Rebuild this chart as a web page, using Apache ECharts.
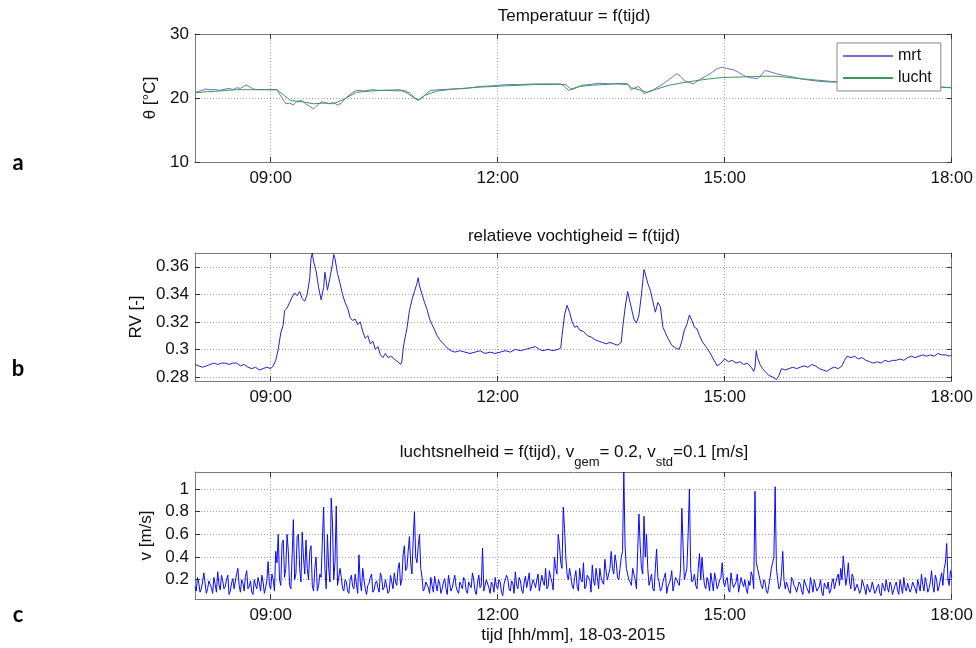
<!DOCTYPE html>
<html>
<head>
<meta charset="utf-8">
<title>Temperatuur, RV en luchtsnelheid</title>
<script src="https://cdn.jsdelivr.net/npm/echarts@6/dist/echarts.min.js"></script>
<style>
  html, body { margin: 0; padding: 0; background: #fff; }
  #chart { width: 976px; height: 648px; }
</style>
</head>
<body>
<div id="chart"></div>
<script>
// tijd in minuten na 08:00
const timeTicks = [60, 240, 420, 600];
const tempTicks = [10, 20, 30];
const rvTicks = [0.28, 0.3, 0.32, 0.34, 0.36];
const vTicks = [0.2, 0.4, 0.6, 0.8, 1];

const mrtTime = [
  0, 4, 8, 12, 16, 20, 24, 27, 30, 33, 36, 40, 43, 46, 50, 55, 59, 65, 68, 72,
  75, 78, 81, 85, 88, 91, 94, 97, 100, 103, 106, 110, 113, 116, 119, 123, 128, 134, 140, 146,
  153, 160, 166, 170, 174, 177, 180, 184, 187, 195, 204, 215, 226, 236, 247, 258, 269, 280, 290, 293,
  296, 300, 307, 313, 320, 330, 339, 343, 346, 349, 352, 356, 359, 363, 367, 371, 376, 382, 385, 388,
  392, 395, 398, 401, 405, 410, 414, 418, 422, 427, 431, 435, 440, 446, 449, 452, 456, 461, 467, 474,
  480, 487, 495, 504, 520, 540, 560, 580, 600
];
const mrtTemp = [
  20.9, 21.1, 21.4, 21.3, 21.3, 21.2, 21.4, 21.5, 21.3, 21.6, 21.5, 22.0, 21.8, 21.4, 21.3, 21.3, 21.3, 21.3, 20.3, 19.1,
  19.2, 18.9, 19.5, 19.6, 19.0, 18.7, 18.3, 18.9, 19.4, 19.3, 19.1, 19.3, 18.9, 19.2, 19.9, 20.6, 21.2, 21.1, 21.3, 21.2,
  21.2, 21.1, 21.2, 20.8, 20.1, 19.6, 20.0, 20.8, 21.2, 21.3, 21.4, 21.5, 21.8, 21.9, 22.1, 22.1, 22.2, 22.2, 22.2, 21.8,
  21.2, 21.4, 22.0, 22.1, 22.3, 22.2, 22.3, 22.2, 21.3, 21.6, 21.8, 20.7, 20.9, 21.2, 21.7, 22.2, 22.9, 23.8, 23.4, 22.7,
  22.4, 22.2, 22.6, 23.0, 23.4, 24.0, 24.6, 24.8, 24.6, 24.4, 24.0, 23.5, 23.2, 23.0, 23.6, 24.3, 24.1, 23.8, 23.5, 23.3,
  23.0, 22.8, 22.6, 22.5, 22.4, 22.2, 22.0, 21.8, 21.6
];

const luchtTime = [
  0, 10, 20, 33, 45, 55, 65, 70, 76, 85, 94, 102, 110, 118, 128, 140, 150, 162, 168, 173,
  177, 182, 192, 205, 226, 247, 269, 285, 294, 298, 305, 315, 333, 343, 346, 352, 358, 366, 376, 387,
  397, 408, 418, 435, 452, 462, 470, 487, 504, 525, 547, 575, 600
];
const luchtTemp = [
  20.8, 21.0, 21.1, 21.3, 21.3, 21.3, 21.3, 20.5, 19.6, 19.4, 19.1, 19.2, 19.1, 19.8, 20.9, 21.1, 21.2, 21.3, 20.8, 20.1,
  19.7, 20.4, 21.1, 21.4, 21.7, 21.9, 22.1, 22.1, 22.1, 21.4, 21.8, 22.0, 22.2, 22.1, 21.6, 21.3, 20.9, 21.4, 22.0, 22.4,
  22.7, 23.0, 23.2, 23.3, 23.4, 23.4, 23.2, 22.9, 22.6, 22.4, 22.2, 21.9, 21.6
];

const rvTime = [
  0, 3, 6, 9, 12, 15, 18, 21, 24, 27,
  30, 33, 36, 39, 42, 45, 48, 51, 54, 57,
  60, 62, 64, 66, 68, 70, 71, 73, 75, 77,
  79, 81, 83, 85, 87, 89, 91, 92, 93, 94,
  96, 98, 100, 102, 103, 104, 105, 107, 109, 110,
  111, 113, 115, 117, 119, 121, 123, 125, 127, 129,
  131, 133, 135, 137, 139, 141, 143, 145, 147, 149,
  151, 153, 155, 157, 159, 161, 163, 164, 165, 166,
  168, 170, 172, 174, 176, 177, 178, 180, 182, 184,
  186, 188, 190, 192, 194, 196, 198, 200, 203, 206,
  210, 214, 218, 222, 226, 230, 234, 238, 242, 246,
  250, 254, 258, 262, 266, 270, 273, 276, 280, 284,
  288, 290, 291, 293, 295, 297, 299, 301, 303, 305,
  308, 311, 314, 317, 320, 323, 326, 329, 332, 335,
  338, 339, 341, 343, 344, 346, 348, 350, 352, 354,
  356, 357, 359, 361, 363, 365, 367, 369, 371, 373,
  375, 378, 381, 384, 386, 388, 390, 392, 394, 396,
  398, 400, 402, 405, 408, 411, 414, 417, 420, 423,
  426, 429, 432, 435, 438, 441, 443, 444, 445, 446,
  448, 450, 452, 455, 458, 461, 463, 465, 468, 471,
  474, 477, 480, 483, 486, 489, 492, 495, 498, 501,
  504, 507, 510, 513, 515, 517, 520, 523, 526, 529,
  532, 535, 538, 541, 544, 547, 550, 553, 556, 559,
  562, 565, 568, 571, 574, 577, 580, 583, 586, 589,
  592, 595, 598, 600
];
const rvValue = [
  0.289, 0.288, 0.287, 0.288, 0.289, 0.290, 0.289, 0.290, 0.290, 0.289,
  0.290, 0.290, 0.288, 0.289, 0.287, 0.286, 0.287, 0.285, 0.286, 0.287,
  0.286, 0.288, 0.292, 0.300, 0.312, 0.318, 0.328, 0.330, 0.334, 0.338,
  0.341, 0.339, 0.342, 0.337, 0.335, 0.340, 0.352, 0.366, 0.370, 0.364,
  0.357, 0.345, 0.336, 0.345, 0.356, 0.350, 0.343, 0.352, 0.362, 0.369,
  0.366, 0.355, 0.348, 0.340, 0.334, 0.330, 0.323, 0.321, 0.322, 0.318,
  0.320, 0.313, 0.308, 0.310, 0.304, 0.306, 0.300, 0.302, 0.296, 0.294,
  0.297, 0.294, 0.295, 0.294, 0.292, 0.291, 0.289, 0.291, 0.300, 0.306,
  0.315, 0.328, 0.336, 0.342, 0.348, 0.352, 0.346, 0.340, 0.334, 0.329,
  0.322, 0.318, 0.314, 0.310, 0.307, 0.305, 0.303, 0.301, 0.299, 0.298,
  0.299, 0.298, 0.297, 0.298, 0.299, 0.297, 0.298, 0.297, 0.298, 0.299,
  0.298, 0.300, 0.299, 0.300, 0.301, 0.302, 0.300, 0.299, 0.300, 0.299,
  0.300, 0.301, 0.310, 0.325, 0.332, 0.327, 0.320, 0.316, 0.317, 0.314,
  0.313, 0.310, 0.309, 0.307, 0.306, 0.305, 0.304, 0.305, 0.304, 0.303,
  0.305, 0.315, 0.330, 0.342, 0.338, 0.330, 0.322, 0.319, 0.325, 0.340,
  0.358, 0.355, 0.348, 0.343, 0.335, 0.327, 0.334, 0.331, 0.316, 0.312,
  0.308, 0.303, 0.301, 0.300, 0.306, 0.314, 0.318, 0.325, 0.321, 0.316,
  0.315, 0.310, 0.306, 0.302, 0.298, 0.293, 0.288, 0.290, 0.293, 0.291,
  0.292, 0.290, 0.291, 0.289, 0.290, 0.287, 0.284, 0.287, 0.299, 0.294,
  0.289, 0.286, 0.284, 0.281, 0.280, 0.278, 0.281, 0.286, 0.285, 0.286,
  0.287, 0.286, 0.287, 0.288, 0.287, 0.289, 0.288, 0.286, 0.285, 0.284,
  0.286, 0.287, 0.286, 0.288, 0.292, 0.295, 0.294, 0.295, 0.293, 0.294,
  0.292, 0.291, 0.290, 0.291, 0.290, 0.292, 0.291, 0.292, 0.292, 0.293,
  0.292, 0.294, 0.295, 0.294, 0.295, 0.296, 0.295, 0.296, 0.295, 0.297,
  0.296, 0.296, 0.295, 0.296
];

// luchtsnelheid: even minuten (0, 2, ... 600) en oneven minuten (1, 3, ... 599) na 08:00
const vEven = [
  0.14, 0.22, 0.09, 0.18, 0.25, 0.12, 0.2, 0.08, 0.16, 0.27, 0.11, 0.19, 0.14, 0.24, 0.1,
  0.21, 0.13, 0.3, 0.09, 0.17, 0.23, 0.12, 0.19, 0.07, 0.15, 0.22, 0.1, 0.18, 0.13, 0.36,
  0.12, 0.2, 0.45, 0.6, 0.15, 0.55, 0.3, 0.45, 0.12, 0.73, 0.25, 0.6, 0.18, 0.4, 0.55,
  0.2, 0.5, 0.1, 0.4, 0.15, 0.22, 0.84, 0.12, 0.3, 0.92, 0.2, 0.85, 0.14, 0.22, 0.1,
  0.18, 0.08, 0.24, 0.12, 0.16, 0.42, 0.1, 0.2, 0.07, 0.17, 0.25, 0.11, 0.19, 0.09, 0.22,
  0.13, 0.2, 0.1, 0.18, 0.26, 0.15, 0.35, 0.2, 0.5, 0.3, 0.58, 0.25, 0.8, 0.35, 0.6,
  0.22, 0.12, 0.19, 0.08, 0.15, 0.23, 0.1, 0.17, 0.12, 0.21, 0.07, 0.16, 0.13, 0.24, 0.1,
  0.18, 0.12, 0.2, 0.08, 0.15, 0.26, 0.1, 0.17, 0.13, 0.48, 0.11, 0.19, 0.08, 0.16, 0.22,
  0.12, 0.18, 0.06, 0.15, 0.21, 0.1, 0.17, 0.27, 0.12, 0.19, 0.08, 0.23, 0.14, 0.1, 0.2,
  0.13, 0.25, 0.09, 0.18, 0.3, 0.14, 0.22, 0.11, 0.3, 0.6, 0.35, 0.84, 0.4, 0.2, 0.23,
  0.12, 0.28, 0.1, 0.2, 0.35, 0.14, 0.25, 0.09, 0.19, 0.3, 0.12, 0.22, 0.16, 0.27, 0.2,
  0.45, 0.25, 0.35, 0.2, 0.4, 1.15, 0.3, 0.2, 0.15, 0.25, 0.12, 0.78, 0.3, 0.76, 0.6,
  0.15, 0.25, 0.1, 0.47, 0.18, 0.12, 0.22, 0.08, 0.17, 0.28, 0.11, 0.2, 0.15, 0.83, 0.2,
  0.3, 1.0, 0.18, 0.25, 0.12, 0.43, 0.4, 0.15, 0.22, 0.1, 0.18, 0.26, 0.12, 0.2, 0.35,
  0.14, 0.22, 0.09, 0.18, 0.12, 0.25, 0.1, 0.17, 0.2, 0.08, 0.15, 0.23, 0.98, 0.3, 0.2,
  0.12, 0.18, 0.08, 0.22, 0.35, 1.02, 0.2, 0.14, 0.45, 0.12, 0.17, 0.08, 0.2, 0.13, 0.1,
  0.16, 0.07, 0.19, 0.12, 0.22, 0.09, 0.15, 0.11, 0.2, 0.06, 0.14, 0.18, 0.1, 0.21, 0.13,
  0.25, 0.3, 0.41, 0.15, 0.35, 0.12, 0.22, 0.09, 0.17, 0.11, 0.2, 0.07, 0.15, 0.12, 0.19,
  0.1, 0.16, 0.06, 0.13, 0.2, 0.09, 0.15, 0.11, 0.18, 0.07, 0.14, 0.22, 0.1, 0.16, 0.12,
  0.19, 0.08, 0.15, 0.25, 0.1, 0.17, 0.12, 0.28, 0.09, 0.2, 0.14, 0.26, 0.3, 0.52, 0.15,
  0.22
];
const vOdd = [
  0.1, 0.17, 0.12, 0.26, 0.08, 0.19, 0.13, 0.22, 0.09, 0.16, 0.24, 0.12, 0.2, 0.07, 0.17,
  0.12, 0.25, 0.15, 0.2, 0.1, 0.28, 0.14, 0.09, 0.2, 0.12, 0.17, 0.24, 0.08, 0.2, 0.15,
  0.25, 0.1, 0.35, 0.2, 0.52, 0.22, 0.6, 0.15, 0.4, 0.2, 0.58, 0.3, 0.62, 0.25, 0.3,
  0.45, 0.15, 0.3, 0.1, 0.25, 0.55, 0.3, 0.6, 0.18, 0.7, 0.35, 0.15, 0.3, 0.12, 0.2,
  0.1, 0.2, 0.14, 0.25, 0.08, 0.18, 0.3, 0.12, 0.15, 0.22, 0.09, 0.17, 0.13, 0.26, 0.11,
  0.2, 0.08, 0.24, 0.12, 0.18, 0.3, 0.15, 0.42, 0.28, 0.45, 0.35, 0.55, 0.4, 0.5, 0.3,
  0.1, 0.18, 0.13, 0.22, 0.09, 0.16, 0.2, 0.08, 0.18, 0.12, 0.24, 0.1, 0.19, 0.14, 0.08,
  0.15, 0.22, 0.1, 0.18, 0.13, 0.2, 0.07, 0.24, 0.15, 0.1, 0.2, 0.13, 0.18, 0.09, 0.14,
  0.2, 0.09, 0.16, 0.24, 0.12, 0.19, 0.08, 0.15, 0.22, 0.11, 0.18, 0.13, 0.26, 0.09, 0.17,
  0.2, 0.1, 0.24, 0.15, 0.12, 0.28, 0.18, 0.4, 0.25, 0.5, 0.3, 0.65, 0.25, 0.3, 0.15,
  0.22, 0.14, 0.3, 0.18, 0.12, 0.24, 0.2, 0.33, 0.15, 0.22, 0.3, 0.18, 0.38, 0.2, 0.3,
  0.3, 0.42, 0.22, 0.3, 0.45, 0.5, 0.25, 0.18, 0.3, 0.2, 0.45, 0.5, 0.25, 0.4, 0.3,
  0.2, 0.12, 0.3, 0.22, 0.1, 0.18, 0.26, 0.14, 0.2, 0.1, 0.22, 0.17, 0.3, 0.5, 0.25,
  0.6, 0.3, 0.2, 0.15, 0.3, 0.2, 0.25, 0.12, 0.18, 0.26, 0.1, 0.2, 0.15, 0.22, 0.18,
  0.2, 0.11, 0.26, 0.13, 0.18, 0.09, 0.22, 0.14, 0.12, 0.19, 0.27, 0.12, 0.35, 0.25, 0.15,
  0.2, 0.1, 0.15, 0.3, 0.4, 0.3, 0.12, 0.25, 0.2, 0.18, 0.1, 0.22, 0.15, 0.09, 0.18,
  0.1, 0.2, 0.13, 0.08, 0.16, 0.2, 0.1, 0.14, 0.09, 0.17, 0.12, 0.08, 0.18, 0.12, 0.22,
  0.15, 0.2, 0.28, 0.22, 0.18, 0.25, 0.1, 0.16, 0.08, 0.2, 0.12, 0.16, 0.09, 0.18, 0.08,
  0.14, 0.08, 0.17, 0.1, 0.13, 0.18, 0.07, 0.15, 0.11, 0.2, 0.08, 0.13, 0.17, 0.09, 0.18,
  0.12, 0.2, 0.1, 0.16, 0.22, 0.09, 0.18, 0.14, 0.24, 0.1, 0.2, 0.15, 0.35, 0.2, 0.28
];

const font = '"Liberation Sans", Arial, sans-serif';
const boxColor = '#7a7a7a';
const dotted = {show: true, lineStyle: {color: '#a0a0a0', width: 1, type: [1, 2]}};

const zip = (xs, ys) => xs.map((x, i) => [x, ys[i]]);
const hourLabel = v => String(8 + Math.round(v / 60)).padStart(2, '0') + ':00';

// even en oneven minuten samenvoegen tot één reeks
const vData = [];
vEven.forEach((v, i) => {
  vData.push([i * 2, v]);
  if (i < vOdd.length) vData.push([i * 2 + 1, vOdd[i]]);
});

const grids = [
  {left: 195, top: 34, width: 758, height: 128},
  {left: 195, top: 253, width: 758, height: 128},
  {left: 195, top: 472, width: 758, height: 127},
];

function timeAxes(grid, name) {
  return [{
    type: 'value', gridIndex: grid, min: 0, max: 600,
    axisLine: {onZero: false, lineStyle: {color: boxColor}},
    axisTick: {inside: true, length: 5, customValues: timeTicks, lineStyle: {color: '#333'}},
    axisLabel: {customValues: timeTicks, formatter: hourLabel, color: '#111', fontSize: 17, margin: 8, fontFamily: font},
    splitLine: dotted,
    name: name, nameLocation: 'middle', nameGap: 28,
    nameTextStyle: {color: '#111', fontSize: 17, fontFamily: font},
  }, {
    type: 'value', gridIndex: grid, position: 'top', min: 0, max: 600,
    axisLine: {onZero: false, lineStyle: {color: boxColor}},
    axisTick: {inside: true, length: 5, customValues: timeTicks, lineStyle: {color: '#333'}},
    axisLabel: {show: false},
    splitLine: {show: false},
  }];
}

function valueAxes(grid, min, max, ticks, name, gap) {
  return [{
    type: 'value', gridIndex: grid, min: min, max: max,
    axisLine: {onZero: false, lineStyle: {color: boxColor}},
    axisTick: {inside: true, length: 5, customValues: ticks, lineStyle: {color: '#333'}},
    axisLabel: {customValues: ticks, color: '#111', fontSize: 17, margin: 6, fontFamily: font},
    splitLine: dotted,
    name: name, nameLocation: 'middle', nameGap: gap,
    nameTextStyle: {color: '#111', fontSize: 17, fontFamily: font},
  }, {
    type: 'value', gridIndex: grid, position: 'right', min: min, max: max,
    axisLine: {onZero: false, lineStyle: {color: boxColor}},
    axisTick: {inside: true, length: 5, customValues: ticks, lineStyle: {color: '#333'}},
    axisLabel: {show: false},
    splitLine: {show: false},
  }];
}

const lineSeries = (name, grid, data, color) => ({
  name: name, type: 'line', data: data,
  xAxisIndex: grid * 2, yAxisIndex: grid * 2,
  symbol: 'none', showSymbol: false,
  lineStyle: {color: color, width: 1}, itemStyle: {color: color},
  emphasis: {disabled: true},
});

const titleText = (text, y, extra) => ({
  type: 'text', x: 574, y: y, silent: true,
  style: Object.assign({
    text: text, fill: '#111', fontSize: 17, fontFamily: font,
    align: 'center', verticalAlign: 'middle',
  }, extra || {}),
});

const letter = (text, y) => ({
  type: 'text', x: 18, y: y, silent: true,
  style: {text: text, fill: '#000', font: 'bold 22px Lato, "Open Sans", sans-serif', align: 'center', verticalAlign: 'middle'},
});

const chart = echarts.init(document.getElementById('chart'));
chart.setOption({
  animation: false,
  backgroundColor: '#fff',
  grid: grids,
  xAxis: [].concat(
    timeAxes(0, ''),
    timeAxes(1, ''),
    timeAxes(2, 'tijd [hh/mm], 18-03-2015')
  ),
  yAxis: [].concat(
    valueAxes(0, 10, 30, tempTicks, 'θ [°C]', 32),
    valueAxes(1, 0.277, 0.37, rvTicks, 'RV [-]', 45),
    valueAxes(2, 0.03, 1.15, vTicks, 'v [m/s]', 37)
  ),
  legend: {
    data: ['mrt', 'lucht'],
    left: 837, top: 43, orient: 'vertical',
    icon: 'rect', itemWidth: 50, itemHeight: 2, itemGap: 6,
    padding: [5, 9, 5, 6],
    backgroundColor: '#fff', borderColor: '#888', borderWidth: 1, borderRadius: 0,
    textStyle: {color: '#111', fontSize: 16, fontFamily: font},
    selectedMode: false,
  },
  series: [
    lineSeries('mrt', 0, zip(mrtTime, mrtTemp), '#6f6fd6'),
    lineSeries('lucht', 0, zip(luchtTime, luchtTemp), '#3c9a58'),
    lineSeries('RV', 1, zip(rvTime, rvValue), '#2323c8'),
    lineSeries('v', 2, vData, '#0a0aff'),
  ],
  graphic: [
    titleText('Temperatuur = f(tijd)', 16),
    titleText('relatieve vochtigheid = f(tijd)', 236),
    titleText('{n|luchtsnelheid = f(tijd), v}{s|gem}{n|= 0.2, v}{s|std}{n|=0.1 [m/s]}', 453, {
      rich: {
        n: {fontSize: 17, fontFamily: font, fill: '#111', lineHeight: 19, verticalAlign: 'top'},
        s: {fontSize: 13, fontFamily: font, fill: '#111', lineHeight: 13, padding: [12, 0, 0, 0], verticalAlign: 'top'},
      },
    }),
    letter('a', 163),
    letter('b', 369),
    letter('c', 615),
  ],
});
</script>
</body>
</html>
